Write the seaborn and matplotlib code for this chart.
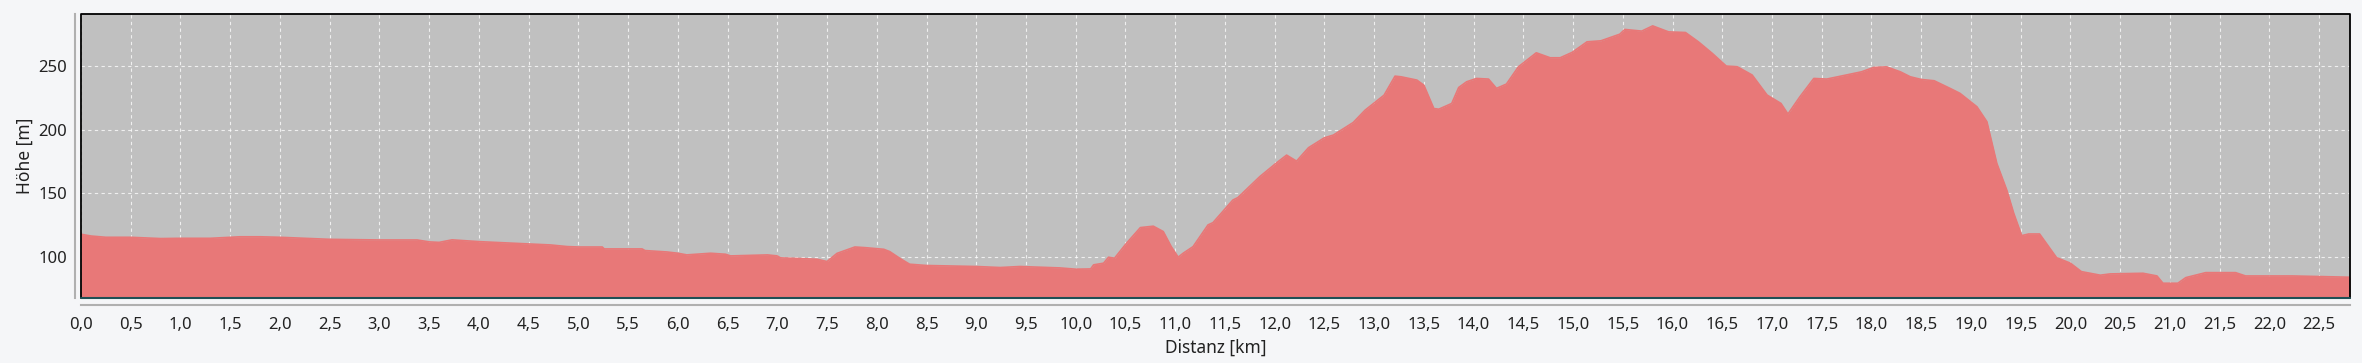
import numpy as np
import pandas as pd
import seaborn as sns
import matplotlib.pyplot as plt
from matplotlib.ticker import MultipleLocator, FuncFormatter

# elevation profile
distanz_km = [0.0, 0.1, 0.25, 0.5, 0.8, 1.0, 1.3, 1.5, 1.6, 1.8, 2.0, 2.3, 2.5, 3.0, 3.21,
              3.38, 3.5, 3.6, 3.73, 4.0, 4.22, 4.5, 4.72, 4.89, 5.0, 5.24, 5.26, 5.5, 5.64,
              5.67, 5.89, 6.0, 6.09, 6.33, 6.48, 6.53, 6.9, 7.0, 7.03, 7.4, 7.5, 7.6, 7.78,
              7.88, 8.07, 8.13, 8.23, 8.33, 8.5, 9.0, 9.24, 9.44, 9.84, 10.0, 10.15, 10.18,
              10.28, 10.33, 10.39, 10.51, 10.65, 10.78, 10.88, 10.96, 11.03, 11.08, 11.18,
              11.33, 11.38, 11.58, 11.63, 11.85, 12.02, 12.12, 12.22, 12.34, 12.5, 12.59,
              12.79, 12.91, 13.1, 13.21, 13.27, 13.43, 13.5, 13.6, 13.65, 13.78, 13.85,
              13.93, 14.03, 14.15, 14.23, 14.33, 14.45, 14.63, 14.77, 14.87, 14.99, 15.14,
              15.28, 15.47, 15.52, 15.69, 15.8, 15.96, 16.13, 16.26, 16.4, 16.54, 16.65,
              16.8, 16.95, 17.09, 17.16, 17.28, 17.42, 17.55, 17.9, 18.02, 18.15, 18.29,
              18.39, 18.5, 18.63, 18.79, 18.89, 19.06, 19.16, 19.26, 19.36, 19.43, 19.51,
              19.58, 19.69, 19.86, 20.0, 20.11, 20.3, 20.4, 20.73, 20.87, 20.93, 21.08,
              21.16, 21.36, 21.66, 21.76, 21.96, 22.23, 22.81]
hoehe_m = [118.0, 116.6, 115.6, 115.6, 114.6, 114.8, 114.8, 115.6, 116.0, 116.0, 115.6, 114.6,
           114.0, 113.5, 113.5, 113.5, 112.0, 111.6, 113.6, 112.2, 111.4, 110.4, 109.6, 108.3,
           108.0, 108.0, 106.5, 106.5, 106.5, 105.2, 104.1, 103.1, 101.8, 103.1, 102.3, 101.0,
           101.8, 101.0, 99.5, 98.4, 96.6, 103.0, 108.0, 107.5, 106.2, 104.4, 99.2, 94.5,
           93.5, 92.7, 91.9, 92.7, 91.6, 90.6, 90.8, 94.0, 95.3, 100.0, 99.2, 110.9, 123.2,
           124.3, 120.1, 108.3, 100.0, 103.1, 108.3, 125.3, 127.1, 144.8, 146.7, 163.1, 174.0,
           180.0, 175.3, 185.8, 193.6, 195.7, 205.6, 215.3, 227.0, 241.9, 241.4, 238.8, 234.8,
           216.5, 216.0, 220.5, 233.0, 237.5, 240.1, 239.6, 232.3, 235.7, 249.2, 260.2, 256.3,
           256.3, 260.5, 268.8, 269.6, 274.8, 278.5, 277.2, 281.3, 276.6, 276.1, 268.8, 259.7,
           249.8, 249.3, 242.8, 227.1, 220.5, 212.2, 225.7, 240.1, 239.6, 245.3, 248.7, 249.2,
           245.3, 241.4, 239.3, 238.3, 232.3, 228.4, 217.9, 206.2, 173.5, 152.6, 134.4, 116.9,
           118.2, 118.2, 99.7, 95.3, 88.7, 85.9, 86.9, 87.4, 85.3, 79.6, 79.6, 84.0, 87.9,
           87.9, 85.3, 85.3, 85.3, 84.3]

profil = pd.DataFrame({"Distanz": distanz_km, "Hoehe": hoehe_m})

sns.set_style("white")
plt.rcParams['font.family'] = ['Noto Sans', 'DejaVu Sans']

fig = plt.figure(figsize=(23.62, 3.63), dpi=100, facecolor='#f5f6f8')
ax = fig.add_axes([0.0343, 0.179, 0.9606, 0.7838])
ax.set_facecolor('#c0c0c0')

y_min, y_max = 68, 291
ax.fill_between(profil["Distanz"], profil["Hoehe"], y_min, color='#e87878', lw=0, zorder=2)
sns.lineplot(data=profil, x="Distanz", y="Hoehe", ax=ax, color='#e87878', lw=1.2, zorder=3)

ax.set_xlim(0, 22.81)
ax.set_ylim(y_min, y_max)
ax.xaxis.set_major_locator(MultipleLocator(0.5))
ax.yaxis.set_major_locator(MultipleLocator(50))
ax.xaxis.set_major_formatter(FuncFormatter(lambda v, p: f"{v:.1f}".replace('.', ',')))
ax.yaxis.set_major_formatter(FuncFormatter(lambda v, p: f"{v:.0f}"))

ax.grid(True, color='white', linestyle=(0, (3, 3)), lw=0.8, alpha=0.75, zorder=1)
ax.set_axisbelow(True)

# outward gray axis lines, frame around the plot area
for side in ['top', 'right']:
    ax.spines[side].set_visible(False)
ax.spines['left'].set_position(('outward', 4))
ax.spines['bottom'].set_position(('outward', 5))
ax.spines['left'].set_color('#b0b0b0')
ax.spines['bottom'].set_color('#b0b0b0')
ax.spines['left'].set_linewidth(1.5)
ax.spines['bottom'].set_linewidth(1.5)
ax.tick_params(axis='x', direction='out', length=4, width=1, color='#b0b0b0',
               labelsize=12, labelcolor='#222222', pad=5)
ax.tick_params(axis='y', length=0, labelsize=12, labelcolor='#222222', pad=6)

ax.plot([0, 0, 1, 1], [0, 1, 1, 0], transform=ax.transAxes, color='black', lw=1.3,
        clip_on=False, zorder=5)
ax.plot([0, 1], [0, 0], transform=ax.transAxes, color='#1f4f55', lw=1.5,
        clip_on=False, zorder=5)

ax.set_xlabel("Distanz [km]", fontsize=12.5, color='#222222', labelpad=4)
ax.set_ylabel("Höhe [m]", fontsize=12.5, color='#222222')
ax.yaxis.set_label_coords(-0.021, 0.5)

fig.savefig('out.png', dpi=100, facecolor=fig.get_facecolor())
